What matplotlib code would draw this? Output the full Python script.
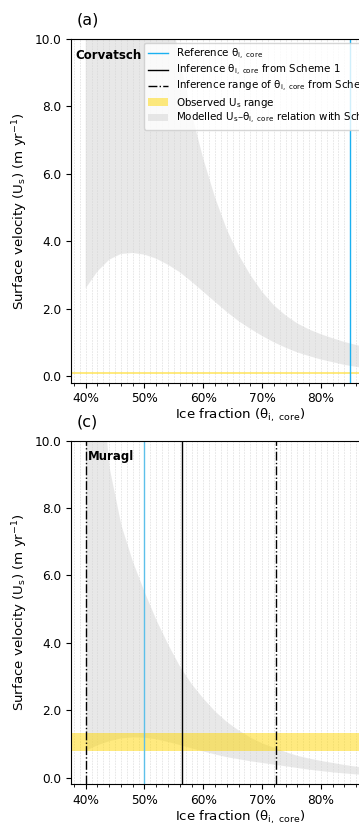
import matplotlib
matplotlib.use("Agg")
import matplotlib.pyplot as plt
import numpy as np
from matplotlib.ticker import MultipleLocator, PercentFormatter, FormatStrFormatter
from matplotlib.lines import Line2D
from matplotlib.patches import Patch

# ---------------- data ----------------
theta = [0.40, 0.42, 0.44, 0.46, 0.48, 0.50, 0.52, 0.54, 0.56, 0.58, 0.60,
         0.62, 0.64, 0.66, 0.68, 0.70, 0.72, 0.74, 0.76, 0.78, 0.80, 0.82,
         0.84, 0.86, 0.88, 0.90, 0.92, 0.94, 0.96]

# Panel (a) Corvatsch
upper_a = [60, 45, 35, 27, 21, 17, 13.5, 11.2, 9.4, 7.8, 6.45,
           5.3, 4.35, 3.6, 3.0, 2.5, 2.1, 1.8, 1.56, 1.38, 1.24, 1.12,
           1.01, 0.92, 0.84, 0.77, 0.71, 0.65, 0.60]
lower_a = [2.6, 3.1, 3.45, 3.62, 3.65, 3.6, 3.48, 3.3, 3.08, 2.8, 2.5,
           2.2, 1.9, 1.63, 1.4, 1.19, 1.0, 0.84, 0.7, 0.59, 0.49, 0.41,
           0.33, 0.27, 0.23, 0.20, 0.18, 0.16, 0.14]
obs_a = (0.07, 0.12)
ref_a = 0.85

# Panel (c) Muragl
upper_c = [20, 13, 9.2, 7.5, 6.4, 5.5, 4.67, 3.95, 3.3, 2.78, 2.35,
           1.97, 1.66, 1.41, 1.2, 1.03, 0.9, 0.77, 0.66, 0.58, 0.51, 0.45,
           0.39, 0.34, 0.30, 0.27, 0.24, 0.22, 0.20]
lower_c = [0.82, 0.98, 1.1, 1.18, 1.21, 1.2, 1.15, 1.07, 0.98, 0.88, 0.79,
           0.70, 0.62, 0.56, 0.50, 0.45, 0.40, 0.35, 0.30, 0.25, 0.21, 0.17,
           0.14, 0.11, 0.10, 0.09, 0.08, 0.07, 0.06]
obs_c = (0.79, 1.34)
ref_c = 0.50
scheme1_c = 0.563
range_c = (0.40, 0.724)

panels = [
    dict(tag="(a)", name="Corvatsch", upper=upper_a, lower=lower_a, obs=obs_a,
         ref=ref_a, s1=None, rng=None, name_x=0.012, legend=True,
         ref_color="#1ab0f0"),
    dict(tag="(c)", name="Muragl", upper=upper_c, lower=lower_c, obs=obs_c,
         ref=ref_c, s1=scheme1_c, rng=range_c, name_x=0.05, legend=False,
         ref_color="#5cc0ea"),
]

grid_x = np.arange(0.38, 0.955, 0.01)

W, H = 359, 823
fig = plt.figure(figsize=(W / 100, H / 100), dpi=100)

ax_left = 71 / W
ax_w = 338 / W
ax_h = 343.7 / H
bottoms = [1 - 382.7 / H, 1 - 784.4 / H]

yellow = "#FFD700"
grey = "#d3d3d3"

th_sub = r"θ$_\mathregular{i,\ core}$"
us_sub = r"U$_\mathregular{s}$"

for p, b in zip(panels, bottoms):
    ax = fig.add_axes([ax_left, b, ax_w, ax_h])
    ax.set_xlim(0.375, 0.95)
    ax.set_ylim(-0.2, 10.0)

    ax.vlines(grid_x, -0.2, 10.0, colors="#dedede", linestyles=(0, (2.5, 1.5)),
              linewidth=0.5, zorder=0.5)
    ax.fill_between(theta, p["lower"], p["upper"], color=grey, alpha=0.5,
                    linewidth=0, zorder=1)
    ax.axhspan(p["obs"][0], p["obs"][1], color=yellow, alpha=0.5,
               linewidth=0, zorder=1.2)
    ax.axvline(p["ref"], color=p["ref_color"], linewidth=1.0, zorder=2)
    if p["s1"] is not None:
        ax.axvline(p["s1"], color="black", linewidth=1.0, zorder=2)
    if p["rng"] is not None:
        for v in p["rng"]:
            ax.axvline(v, color="black", linewidth=1.0, linestyle="-.", zorder=2)

    ax.xaxis.set_major_locator(MultipleLocator(0.10))
    ax.xaxis.set_minor_locator(MultipleLocator(0.02))
    ax.xaxis.set_major_formatter(PercentFormatter(1.0, decimals=0))
    ax.yaxis.set_major_locator(MultipleLocator(2.0))
    ax.yaxis.set_major_formatter(FormatStrFormatter("%.1f"))
    ax.tick_params(axis="both", which="major", labelsize=8.7, length=3.5,
                   width=0.8)
    ax.tick_params(axis="x", which="minor", length=2, width=0.6)

    ax.set_xlabel("Ice fraction (" + th_sub + ")", fontsize=9.6)
    ax.xaxis.set_label_coords(0.5, -0.07)
    ax.set_ylabel("Surface velocity (" + us_sub + r") (m yr$^\mathregular{-1}$)",
                  fontsize=9.6)
    ax.yaxis.set_label_coords(-0.122, 0.5)

    ax.text(0.017, 1.055, p["tag"], transform=ax.transAxes, fontsize=11.5,
            ha="left", va="center")
    ax.text(p["name_x"], 0.953, p["name"], transform=ax.transAxes,
            fontsize=8.5, fontweight="bold", ha="left", va="center", zorder=5)

    if p["legend"]:
        handles = [
            Line2D([], [], color=p["ref_color"], linewidth=1.0),
            Line2D([], [], color="black", linewidth=1.0),
            Line2D([], [], color="black", linewidth=1.0, linestyle="-."),
            Patch(facecolor=yellow, alpha=0.5, linewidth=0),
            Patch(facecolor=grey, alpha=0.5, linewidth=0),
        ]
        labels = [
            "Reference " + th_sub,
            "Inference " + th_sub + " from Scheme 1",
            "Inference range of " + th_sub + " from Scheme 2",
            "Observed " + us_sub + " range",
            "Modelled " + us_sub + "–" + th_sub + " relation with Scheme 2",
        ]
        leg = ax.legend(handles, labels, loc="upper left",
                        bbox_to_anchor=(144 / W, 1 - 43 / H),
                        bbox_transform=fig.transFigure, borderaxespad=0,
                        fontsize=7.4, framealpha=0.8, labelspacing=0.12,
                        borderpad=0.35)
        leg.set_zorder(6)

fig.savefig("out.png", dpi=100)
